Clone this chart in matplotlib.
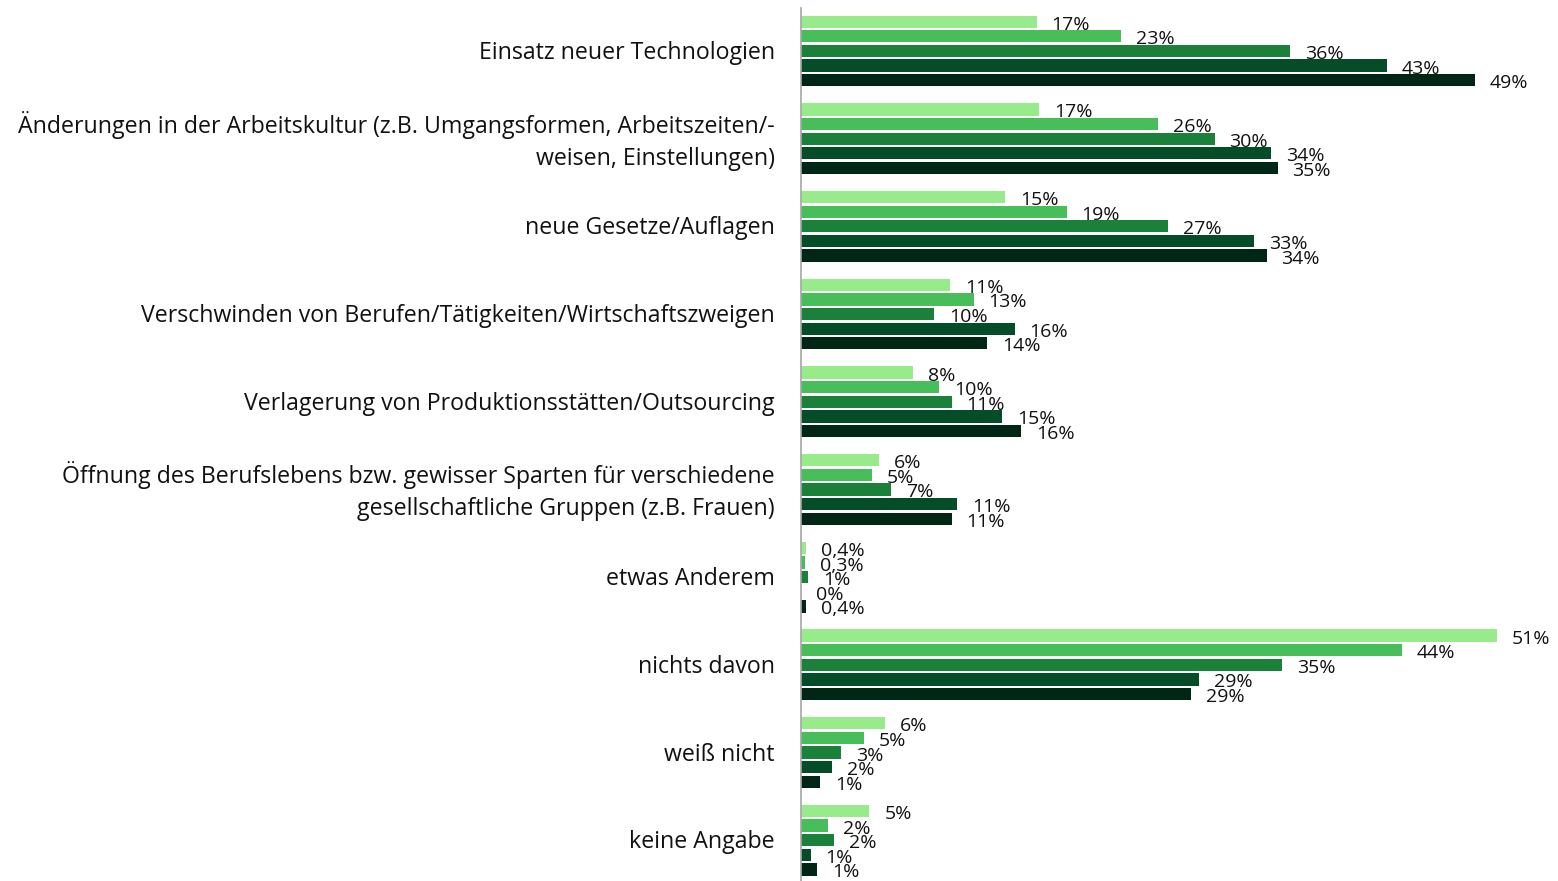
import matplotlib
matplotlib.use("Agg")
import matplotlib.pyplot as plt
import numpy as np

plt.rcParams['font.family'] = ['Open Sans', 'DejaVu Sans']

categories = [
    "Einsatz neuer Technologien",
    "Änderungen in der Arbeitskultur (z.B. Umgangsformen, Arbeitszeiten/-\nweisen, Einstellungen)",
    "neue Gesetze/Auflagen",
    "Verschwinden von Berufen/Tätigkeiten/Wirtschaftszweigen",
    "Verlagerung von Produktionsstätten/Outsourcing",
    "Öffnung des Berufslebens bzw. gewisser Sparten für verschiedene\ngesellschaftliche Gruppen (z.B. Frauen)",
    "etwas Anderem",
    "nichts davon",
    "weiß nicht",
    "keine Angabe",
]

series1 = [17.2, 17.4, 14.9, 10.9, 8.2, 5.7, 0.4, 50.8, 6.1, 5.0]
series2 = [23.4, 26.1, 19.4, 12.6, 10.1, 5.2, 0.3, 43.9, 4.6, 2.0]
series3 = [35.7, 30.2, 26.8, 9.7, 11.0, 6.6, 0.5, 35.1, 2.9, 2.4]
series4 = [42.8, 34.3, 33.1, 15.6, 14.7, 11.4, 0.0, 29.1, 2.3, 0.7]
series5 = [49.2, 34.8, 34.0, 13.6, 16.1, 11.0, 0.4, 28.5, 1.4, 1.2]

labels1 = ["17%", "17%", "15%", "11%", "8%", "6%", "0,4%", "51%", "6%", "5%"]
labels2 = ["23%", "26%", "19%", "13%", "10%", "5%", "0,3%", "44%", "5%", "2%"]
labels3 = ["36%", "30%", "27%", "10%", "11%", "7%", "1%", "35%", "3%", "2%"]
labels4 = ["43%", "34%", "33%", "16%", "15%", "11%", "0%", "29%", "2%", "1%"]
labels5 = ["49%", "35%", "34%", "14%", "16%", "11%", "0,4%", "29%", "1%", "1%"]

series = [series1, series2, series3, series4, series5]
labels = [labels1, labels2, labels3, labels4, labels5]
colors = ["#98EB8A", "#48BE5A", "#1A803A", "#044D28", "#002616"]

W, H = 1558, 881
fig = plt.figure(figsize=(W / 100, H / 100), dpi=100)
ax_left = 801 / W
ax_right = 1550 / W
ax_top = 8 / H
ax = fig.add_axes([ax_left, 0, ax_right - ax_left, 1 - ax_top])

step = 1 / 6
bar_h = 0.14
y = np.arange(len(categories))
for i, (vals, labs, col) in enumerate(zip(series, labels, colors)):
    pos = y + (i - 2) * step
    ax.barh(pos, vals, height=bar_h, color=col, edgecolor="none")
    for p, v, lab in zip(pos, vals, labs):
        ax.annotate(lab, (v, p), xytext=(15, -3), textcoords="offset pixels",
                    ha="left", va="center", fontsize=14, color="#111111")

ax.set_xlim(0, 54.7)
ax.set_ylim(9.465, -0.49)
ax.set_yticks([])
ax.set_xticks([])
for yc, cat in zip(y, categories):
    ax.annotate(cat, (0, yc), xycoords=("axes fraction", "data"),
                xytext=(-26, -2), textcoords="offset pixels",
                ha="right", va="center", multialignment="right",
                fontsize=16.7, color="#111111", linespacing=1.45,
                annotation_clip=False)
for s in ["top", "right", "bottom"]:
    ax.spines[s].set_visible(False)
ax.spines["left"].set_color("#A6A6A6")
ax.spines["left"].set_linewidth(1.2)

fig.savefig("out.png", dpi=100)
